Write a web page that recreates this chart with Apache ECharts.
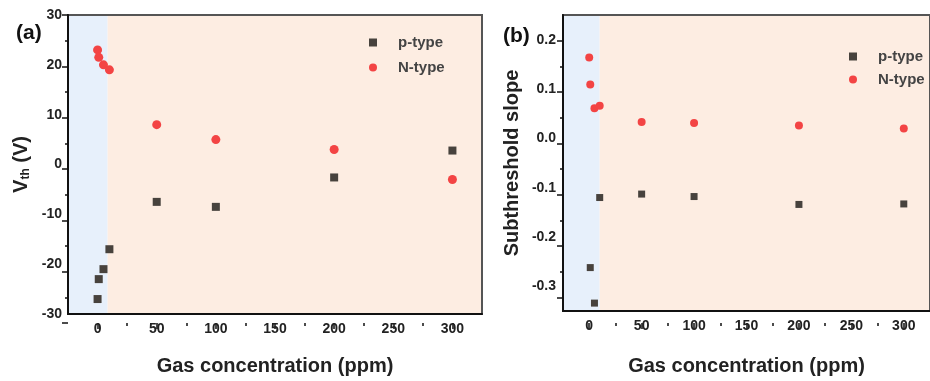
<!DOCTYPE html>
<html><head><meta charset="utf-8">
<script src="https://cdn.jsdelivr.net/npm/echarts@6/dist/echarts.min.js"></script>
<style>html,body{margin:0;padding:0;background:#fff}#c{width:930px;height:381px}</style>
</head><body><div id="c"></div>
<script>
// ---- data ----
const xTicks = [0, 50, 100, 150, 200, 250, 300];
const xMinorTicks = [25, 75, 125, 175, 225, 275];
const vthTicks = [-30, -20, -10, 0, 10, 20, 30];
const vthMinorTicks = [-25, -15, -5, 5, 15, 25];
const vthP_x = [0, 1, 5, 10, 50, 100, 200, 300];
const vthP_y = [-27, -23, -21, -17, -7.5, -8.5, -2.6, 2.8];
const vthN_x = [0, 1, 5, 10, 50, 100, 200, 300];
const vthN_y = [23, 21.5, 20, 19, 8, 5, 3, -3];
const ssP_x = [1, 5, 10, 50, 100, 200, 300];
const ssP_y = [-0.262, -0.334, -0.12, -0.113, -0.118, -0.134, -0.133];
const ssN_x = [0, 1, 5, 10, 50, 100, 200, 300];
const ssN_y = [0.164, 0.109, 0.061, 0.066, 0.033, 0.031, 0.026, 0.020];
const ssTicks = [-0.3, -0.2, -0.1, 0.0, 0.1, 0.2];
const ssMinorTicks = [-0.25, -0.15, -0.05, 0.05, 0.15];
// background regions: [xStart, xEnd] in data units
const regionsA = [[-25, 8.5], [8.5, 325]];
const regionsB = [[-25, 10], [10, 325]];

const zip = (xs, ys) => xs.map((x, i) => [x, ys[i]]);
const FONT = 'Liberation Sans';
const DARK = '#222';
const SQ = '#47423d';
const RED = '#f34444';
const BG_COLORS = ['#e7f0fb', '#fdede2'];
const TICK = { color: '#111', width: 1.5 };
const TICK_INSIDE = false;

const gridA = { left: 68, top: 15, width: 414, height: 308 };
const gridB = { left: 563, top: 15, width: 382, height: 308 };

function mainX(gi) {
  return {
    type: 'value', gridIndex: gi, min: -25, max: 325, position: 'bottom', z: 5,
    axisLine: { show: true, onZero: false, lineStyle: { color: '#111', width: 2 } },
    axisTick: { show: false },
    axisLabel: { customValues: xTicks, margin: 8, color: DARK, fontFamily: FONT, fontWeight: 'bold', fontSize: 14 },
    splitLine: { show: false },
    name: 'Gas concentration (ppm)', nameLocation: 'middle', nameGap: gi === 0 ? 42 : 45,
    nameTextStyle: { fontFamily: FONT, fontWeight: 'bold', fontSize: 20, color: DARK }
  };
}
function tickX(gi, values, len) {
  return {
    type: 'value', gridIndex: gi, min: -25, max: 325, position: 'bottom', z: 5,
    axisLine: { show: false, onZero: false },
    axisTick: { show: true, inside: TICK_INSIDE, length: len, customValues: values, lineStyle: TICK },
    axisLabel: { show: false }, splitLine: { show: false }
  };
}
function tickY(gi, min, max, values, len) {
  return {
    type: 'value', gridIndex: gi, min: min, max: max, position: 'left', z: 5,
    axisLine: { show: false, onZero: false },
    axisTick: { show: true, inside: TICK_INSIDE, length: len, customValues: values, lineStyle: TICK },
    axisLabel: { show: false }, splitLine: { show: false }
  };
}

function bgSeries(xi, yi, regions) {
  return {
    type: 'custom', xAxisIndex: xi, yAxisIndex: yi, z: -5, silent: true,
    data: regions.map((r, i) => [r[0], r[1], i]),
    renderItem: (params, api) => {
      const p0 = api.coord([api.value(0), 0]);
      const p1 = api.coord([api.value(1), 0]);
      const cs = params.coordSys;
      return { type: 'rect', z2: -10, shape: { x: p0[0], y: cs.y, width: p1[0] - p0[0], height: cs.height },
        style: { fill: BG_COLORS[api.value(2)] } };
    },
    clip: true, tooltip: { show: false }
  };
}

const option = {
  animation: false,
  backgroundColor: '#fff',
  title: [
    { text: '(a)', left: 11, top: 18, textStyle: { fontFamily: FONT, fontWeight: 'bold', fontSize: 21, color: '#111' } },
    { text: '(b)', left: 498, top: 21, textStyle: { fontFamily: FONT, fontWeight: 'bold', fontSize: 21, color: '#111' } }
  ],
  grid: [
    Object.assign({ show: true, borderColor: '#555', borderWidth: 2, backgroundColor: 'transparent', z: 4 }, gridA),
    Object.assign({ show: true, borderColor: '#555', borderWidth: 2, backgroundColor: 'transparent', z: 4 }, gridB),
    Object.assign({ show: false }, gridA),
    Object.assign({ show: false }, gridA),
    Object.assign({ show: false }, gridB),
    Object.assign({ show: false }, gridB)
  ],
  legend: [
    { left: 364, top: 30, orient: 'vertical', itemWidth: 8, itemHeight: 8, itemGap: 10,
      data: [{ name: 'p-type', icon: 'rect' }, { name: 'N-type', icon: 'circle' }],
      textStyle: { fontFamily: FONT, fontWeight: 'bold', fontSize: 15, color: '#444', padding: [0, 0, 0, 16] } },
    { left: 844, top: 44, orient: 'vertical', itemWidth: 8, itemHeight: 8, itemGap: 8,
      data: [{ name: 'p-type', icon: 'rect' }, { name: 'N-type', icon: 'circle' }],
      textStyle: { fontFamily: FONT, fontWeight: 'bold', fontSize: 15, color: '#444', padding: [0, 0, 0, 16] } }
  ],
  xAxis: [
    mainX(0), mainX(1),
    tickX(2, xMinorTicks, 3), tickX(3, xTicks, 6),
    tickX(4, xMinorTicks, 3), tickX(5, xTicks, 6)
  ],
  yAxis: [
    { type: 'value', gridIndex: 0, min: -30, max: 30, interval: 10, z: 5,
      axisLine: { show: true, onZero: false, lineStyle: { color: '#111', width: 2 } },
      axisTick: { show: false },
      axisLabel: { margin: 6, color: DARK, fontFamily: FONT, fontWeight: 'bold', fontSize: 14 },
      splitLine: { show: false },
      name: '{v|V}{s|th}{v| (V)}', nameLocation: 'middle', nameGap: 36, nameRotate: 90,
      nameTextStyle: { rich: {
        v: { fontFamily: FONT, fontWeight: 'bold', fontSize: 20, color: DARK },
        s: { fontFamily: FONT, fontWeight: 'bold', fontSize: 12, color: DARK, padding: [10, 0, 0, 0] }
      } }
    },
    { type: 'value', gridIndex: 1, min: -0.35, max: 0.25, z: 5,
      axisLine: { show: true, onZero: false, lineStyle: { color: '#111', width: 2 } },
      axisTick: { show: false },
      axisLabel: { customValues: ssTicks, margin: 7, color: DARK, fontFamily: FONT, fontWeight: 'bold', fontSize: 14,
        formatter: v => v.toFixed(1) },
      splitLine: { show: false },
      name: 'Subthreshold slope', nameLocation: 'middle', nameGap: 41, nameRotate: 90,
      nameTextStyle: { fontFamily: FONT, fontWeight: 'bold', fontSize: 20, color: DARK }
    },
    tickY(2, -30, 30, vthMinorTicks, 3),
    tickY(3, -30, 30, vthTicks, 6),
    tickY(4, -0.35, 0.25, ssMinorTicks, 3),
    tickY(5, -0.35, 0.25, ssTicks, 6)
  ],
  series: [
    bgSeries(0, 0, regionsA),
    bgSeries(1, 1, regionsB),
    { name: 'p-type', type: 'scatter', xAxisIndex: 0, yAxisIndex: 0, symbol: 'rect', symbolSize: 8,
      itemStyle: { color: SQ, opacity: 1 }, data: zip(vthP_x, vthP_y), z: 6 },
    { name: 'N-type', type: 'scatter', xAxisIndex: 0, yAxisIndex: 0, symbol: 'circle', symbolSize: 9,
      itemStyle: { color: RED, opacity: 1 }, data: zip(vthN_x, vthN_y), z: 6 },
    { name: 'p-type', type: 'scatter', xAxisIndex: 1, yAxisIndex: 1, symbol: 'rect', symbolSize: 7,
      itemStyle: { color: SQ, opacity: 1 }, data: zip(ssP_x, ssP_y), z: 6 },
    { name: 'N-type', type: 'scatter', xAxisIndex: 1, yAxisIndex: 1, symbol: 'circle', symbolSize: 8,
      itemStyle: { color: RED, opacity: 1 }, data: zip(ssN_x, ssN_y), z: 6 }
  ]
};
const chart = echarts.init(document.getElementById('c'), null, { renderer: 'canvas' });
chart.setOption(option);
</script></body></html>
